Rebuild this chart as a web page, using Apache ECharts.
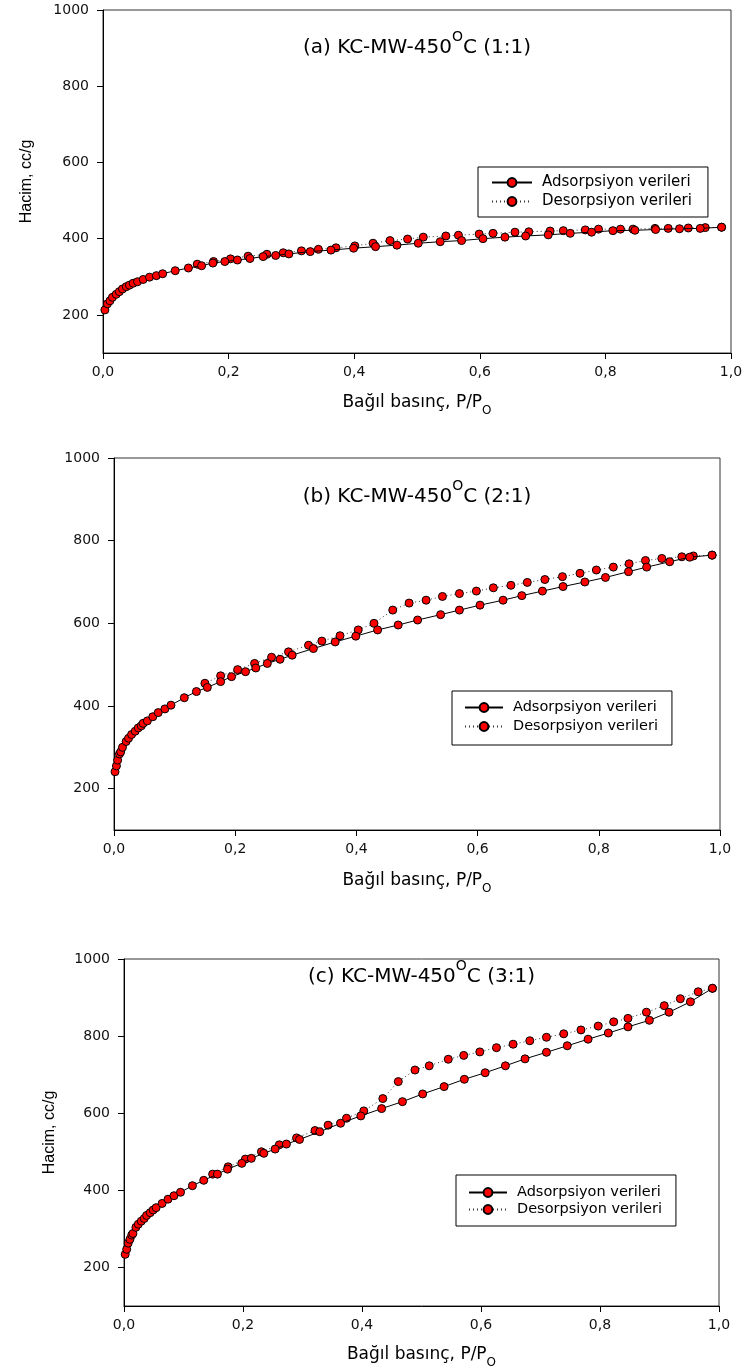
<!DOCTYPE html>
<html>
<head>
<meta charset="utf-8">
<script src="https://cdn.jsdelivr.net/npm/echarts@6/dist/echarts.min.js"></script>
<style>
  html, body { margin: 0; padding: 0; background: #fff; }
  #chart { width: 747px; height: 1372px; }
</style>
</head>
<body>
<div id="chart"></div>
<script>
// ---------- tick labels ----------
const xTickValues = [0, 0.2, 0.4, 0.6, 0.8, 1.0];
const yTickValues = [200, 400, 600, 800, 1000];

// ---------- series names / titles ----------
const seriesNames = ['Adsorpsiyon verileri', 'Desorpsiyon verileri'];
const panelTitles = ['(a) KC-MW-450{sup|O}C (1:1)', '(b) KC-MW-450{sup|O}C (2:1)', '(c) KC-MW-450{sup|O}C (3:1)'];
const xAxisName = 'Bağıl basınç, P/P{sub|O}';
const yAxisName = 'Hacim, cc/g';

// ---------- panel (a) 1:1 ----------
const adsA_P = [0.003,0.007,0.011,0.015,0.021,0.026,0.031,0.037,0.042,0.048,0.055,0.064,0.074,0.085,0.095,0.115,0.136,0.157,0.175,0.194,0.214,0.234,0.255,0.275,0.296,0.330,0.363,0.399,0.434,0.468,0.502,0.537,0.571,0.605,0.640,0.673,0.709,0.744,0.778,0.812,0.847,0.880,0.918,0.951,0.985];
const adsA_V = [213,229,237,246,254,261,268,274,278,283,287,293,299,303,308,316,323,329,336,340,344,348,353,356,360,366,370,375,379,383,388,392,395,400,404,407,410,414,417,421,422,424,426,427,430];
const desA_P = [0.985,0.959,0.932,0.900,0.879,0.844,0.824,0.789,0.768,0.733,0.712,0.678,0.656,0.621,0.599,0.566,0.546,0.510,0.485,0.457,0.430,0.401,0.371,0.343,0.316,0.287,0.261,0.231,0.203,0.176,0.150];
const desA_V = [430,429,428,427,427,425,425,425,423,421,420,418,417,414,412,409,407,404,399,395,388,381,376,372,368,363,359,354,347,340,333];

// ---------- panel (b) 2:1 ----------
const adsB_P = [0.0017,0.004,0.006,0.009,0.011,0.014,0.020,0.024,0.029,0.035,0.040,0.045,0.048,0.055,0.064,0.073,0.084,0.094,0.116,0.136,0.154,0.176,0.194,0.217,0.234,0.253,0.274,0.294,0.329,0.365,0.399,0.435,0.469,0.501,0.539,0.570,0.604,0.642,0.673,0.707,0.741,0.777,0.811,0.849,0.879,0.917,0.950,0.987];
const adsB_V = [241,255,269,284,289,300,314,322,331,339,347,352,358,364,374,384,393,402,420,435,445,459,471,483,492,503,513,523,539,555,569,584,596,608,621,632,644,656,667,678,689,700,711,725,736,749,760,765];
const desB_P = [0.987,0.956,0.937,0.904,0.877,0.850,0.824,0.796,0.769,0.740,0.711,0.682,0.655,0.626,0.598,0.570,0.542,0.515,0.487,0.460,0.429,0.403,0.373,0.343,0.321,0.288,0.260,0.232,0.204,0.176,0.150];
const desB_V = [765,763,761,757,752,744,736,729,721,713,706,699,692,686,678,672,665,656,649,632,600,584,570,557,547,531,518,503,488,473,455];

// ---------- panel (c) 3:1 ----------
const adsC_P = [0.002,0.0045,0.007,0.010,0.013,0.015,0.020,0.024,0.029,0.034,0.038,0.044,0.049,0.054,0.064,0.074,0.084,0.095,0.115,0.134,0.157,0.174,0.198,0.214,0.235,0.254,0.273,0.295,0.329,0.364,0.398,0.433,0.468,0.502,0.538,0.572,0.607,0.641,0.674,0.710,0.745,0.780,0.814,0.847,0.883,0.916,0.952,0.989];
const adsC_V = [234,247,263,273,284,288,304,312,320,327,335,342,349,355,366,377,386,395,412,426,442,455,470,483,496,507,520,532,552,574,593,612,630,650,669,688,705,723,741,758,775,792,808,824,841,862,889,924];
const desC_P = [0.989,0.965,0.935,0.908,0.878,0.847,0.823,0.797,0.768,0.739,0.710,0.682,0.654,0.626,0.598,0.571,0.545,0.513,0.489,0.461,0.435,0.403,0.374,0.343,0.321,0.290,0.261,0.231,0.204,0.175,0.149];
const desC_V = [924,915,897,879,862,846,837,826,816,806,797,788,779,770,759,750,740,723,712,682,638,606,587,569,555,536,518,500,481,461,442];

const panelData = [
  [adsA_P, adsA_V, desA_P, desA_V],
  [adsB_P, adsB_V, desB_P, desB_V],
  [adsC_P, adsC_V, desC_P, desC_V]
];

function zip(xs, ys) { return xs.map((x, i) => [x, ys[i]]); }

// ---------- layout ----------
const grids = [
  { left: 103, top: 10,  width: 628, height: 343 },
  { left: 114, top: 458, width: 606, height: 372 },
  { left: 124, top: 959, width: 595, height: 347 }
];
const showYName = [true, false, true];
const yNameGap = [68, 68, 66];
const xNameGap = [36, 37, 35];
const titleTops = [30, 479, 959];
const legends = [
  { left: 478, top: 167, padding: [8, 16, 8, 13], itemWidth: 40, itemGap: 4, fontSize: 15 },
  { left: 452, top: 691, padding: [9, 14, 11, 12], itemWidth: 38, itemGap: 4, fontSize: 14.5 },
  { left: 456, top: 1175, padding: [10, 14, 9, 12], itemWidth: 38, itemGap: 2, fontSize: 14.5 }
];

const FONT = 'DejaVu Sans';

const option = {
  animation: false,
  backgroundColor: '#fff',
  title: panelTitles.map((t, i) => ({
    text: t,
    left: grids[i].left + grids[i].width / 2,
    top: titleTops[i],
    textAlign: 'center',
    padding: 0,
    textStyle: {
      fontFamily: FONT, fontSize: 20, fontWeight: 'normal', color: '#000', lineHeight: 36,
      rich: { sup: { fontFamily: FONT, fontSize: 14, lineHeight: 14, verticalAlign: 'top', color: '#000' } }
    }
  })),
  legend: legends.map((l) => ({
    data: seriesNames,
    orient: 'vertical',
    left: l.left,
    top: l.top,
    padding: l.padding,
    itemWidth: l.itemWidth,
    itemHeight: 11,
    itemGap: l.itemGap,
    borderColor: '#000',
    borderWidth: 1,
    borderRadius: 0,
    backgroundColor: '#fff',
    selectedMode: false,
    textStyle: { fontFamily: FONT, fontSize: l.fontSize, color: '#000', padding: [0, 0, 0, 5] }
  })),
  grid: grids.map((g) => ({
    left: g.left, top: g.top, width: g.width, height: g.height,
    show: true, borderColor: '#333', borderWidth: 1, backgroundColor: 'transparent',
    containLabel: false
  })),
  xAxis: grids.map((g, i) => ({
    type: 'value', gridIndex: i, min: 0, max: 1, interval: 0.2,
    name: xAxisName, nameLocation: 'middle', nameGap: xNameGap[i],
    nameTextStyle: {
      fontFamily: FONT, fontSize: 17, color: '#000', lineHeight: 28,
      rich: { sub: { fontFamily: FONT, fontSize: 12, lineHeight: 12, verticalAlign: 'bottom', color: '#000' } }
    },
    axisLine: { show: true, onZero: false, lineStyle: { color: '#000', width: 1 } },
    axisTick: { show: true, inside: false, length: 6, lineStyle: { color: '#000' }, customValues: xTickValues },
    axisLabel: {
      show: true, margin: 12, fontFamily: FONT, fontSize: 14, color: '#111',
      customValues: xTickValues,
      formatter: (v) => Number(v).toFixed(1).replace('.', ',')
    },
    splitLine: { show: false }
  })),
  yAxis: grids.map((g, i) => ({
    type: 'value', gridIndex: i, min: 100, max: 1000,
    name: showYName[i] ? yAxisName : '', nameLocation: 'middle', nameGap: yNameGap[i], nameRotate: 90,
    nameTextStyle: { fontFamily: 'Liberation Sans', fontSize: 16, color: '#000' },
    axisLine: { show: true, onZero: false, lineStyle: { color: '#000', width: 1 } },
    axisTick: { show: true, inside: false, length: 6, lineStyle: { color: '#000' }, customValues: yTickValues },
    axisLabel: {
      show: true, margin: 14, fontFamily: FONT, fontSize: 14, color: '#111',
      customValues: yTickValues,
      formatter: (v) => String(Math.round(v))
    },
    splitLine: { show: false }
  })),
  series: []
};

panelData.forEach((d, i) => {
  option.series.push({
    type: 'line', name: seriesNames[0], xAxisIndex: i, yAxisIndex: i,
    data: zip(d[0], d[1]),
    symbol: 'circle', symbolSize: 8, showSymbol: true, showAllSymbol: true,
    itemStyle: { color: '#ff0000', borderColor: '#000', borderWidth: 1 },
    lineStyle: { color: '#000', width: 1, type: 'solid' },
    z: 3
  });
  option.series.push({
    type: 'line', name: seriesNames[1], xAxisIndex: i, yAxisIndex: i,
    data: zip(d[2], d[3]),
    symbol: 'circle', symbolSize: 8, showSymbol: true, showAllSymbol: true,
    itemStyle: { color: '#ff0000', borderColor: '#000', borderWidth: 1 },
    lineStyle: { color: '#333', width: 1, type: [1, 3] },
    z: 2
  });
});

const chart = echarts.init(document.getElementById('chart'), null, { renderer: 'canvas' });
chart.setOption(option);
</script>
</body>
</html>
